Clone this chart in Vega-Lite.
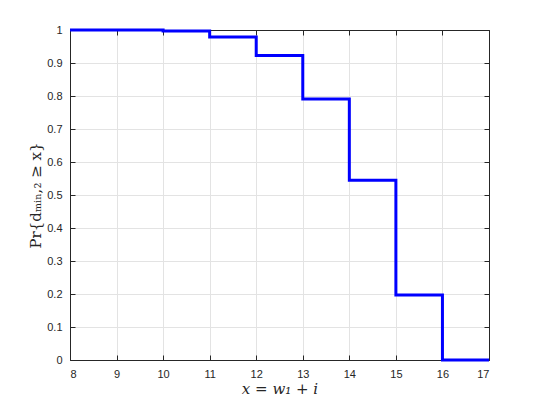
{
  "$schema": "https://vega.github.io/schema/vega-lite/v6.json",
  "width": 419,
  "height": 330,
  "autosize": {"type": "none"},
  "padding": {"left": 70, "top": 30, "right": 51, "bottom": 45},
  "background": "white",
  "config": {
    "view": {"stroke": "#262626", "strokeWidth": 1},
    "axis": {
      "domainColor": "#262626",
      "tickColor": "#262626",
      "tickSize": -5,
      "labelColor": "#262626",
      "labelFont": "Liberation Sans",
      "labelFontSize": 11,
      "gridColor": "#e3e3e3",
      "gridWidth": 1,
      "titleFont": "DejaVu Serif",
      "titleFontWeight": "normal",
      "titleFontSize": 15,
      "titleColor": "#262626"
    }
  },
  "data": {
    "values": [
      {"x": 8, "p": 1.0},
      {"x": 9, "p": 1.0},
      {"x": 10, "p": 0.997},
      {"x": 11, "p": 0.979},
      {"x": 12, "p": 0.923},
      {"x": 13, "p": 0.791},
      {"x": 14, "p": 0.545},
      {"x": 15, "p": 0.197},
      {"x": 16, "p": 0.0},
      {"x": 17, "p": 0.0}
    ]
  },
  "layer": [
    {
      "mark": {"type": "line", "interpolate": "step-after", "color": "#0000ff", "strokeWidth": 3, "clip": false},
      "encoding": {
        "x": {
          "field": "x", "type": "quantitative",
          "scale": {"domain": [8, 17], "nice": false, "zero": false},
          "axis": {"values": [8, 9, 10, 11, 12, 13, 14, 15, 16, 17], "format": "d", "title": "x = w₁ + i", "titleFontStyle": "italic", "titlePadding": 2, "labelPadding": 13}
        },
        "y": {
          "field": "p", "type": "quantitative",
          "scale": {"domain": [0, 1], "nice": false},
          "axis": {"values": [0, 0.1, 0.2, 0.3, 0.4, 0.5, 0.6, 0.7, 0.8, 0.9, 1], "format": "~g", "title": "Pr{dₘᵢₙ,₂ ≥ x}", "titlePadding": 3, "labelPadding": 13}
        }
      }
    },
    {
      "mark": {"type": "line", "opacity": 0},
      "encoding": {
        "x": {
          "field": "x", "type": "quantitative",
          "scale": {"domain": [8, 17], "nice": false, "zero": false},
          "axis": {"orient": "top", "values": [8, 9, 10, 11, 12, 13, 14, 15, 16, 17], "labels": false, "grid": false, "title": null}
        },
        "y": {
          "field": "p", "type": "quantitative",
          "scale": {"domain": [0, 1], "nice": false},
          "axis": {"orient": "right", "values": [0, 0.1, 0.2, 0.3, 0.4, 0.5, 0.6, 0.7, 0.8, 0.9, 1], "labels": false, "grid": false, "title": null}
        }
      }
    }
  ],
  "resolve": {"axis": {"x": "independent", "y": "independent"}}
}
